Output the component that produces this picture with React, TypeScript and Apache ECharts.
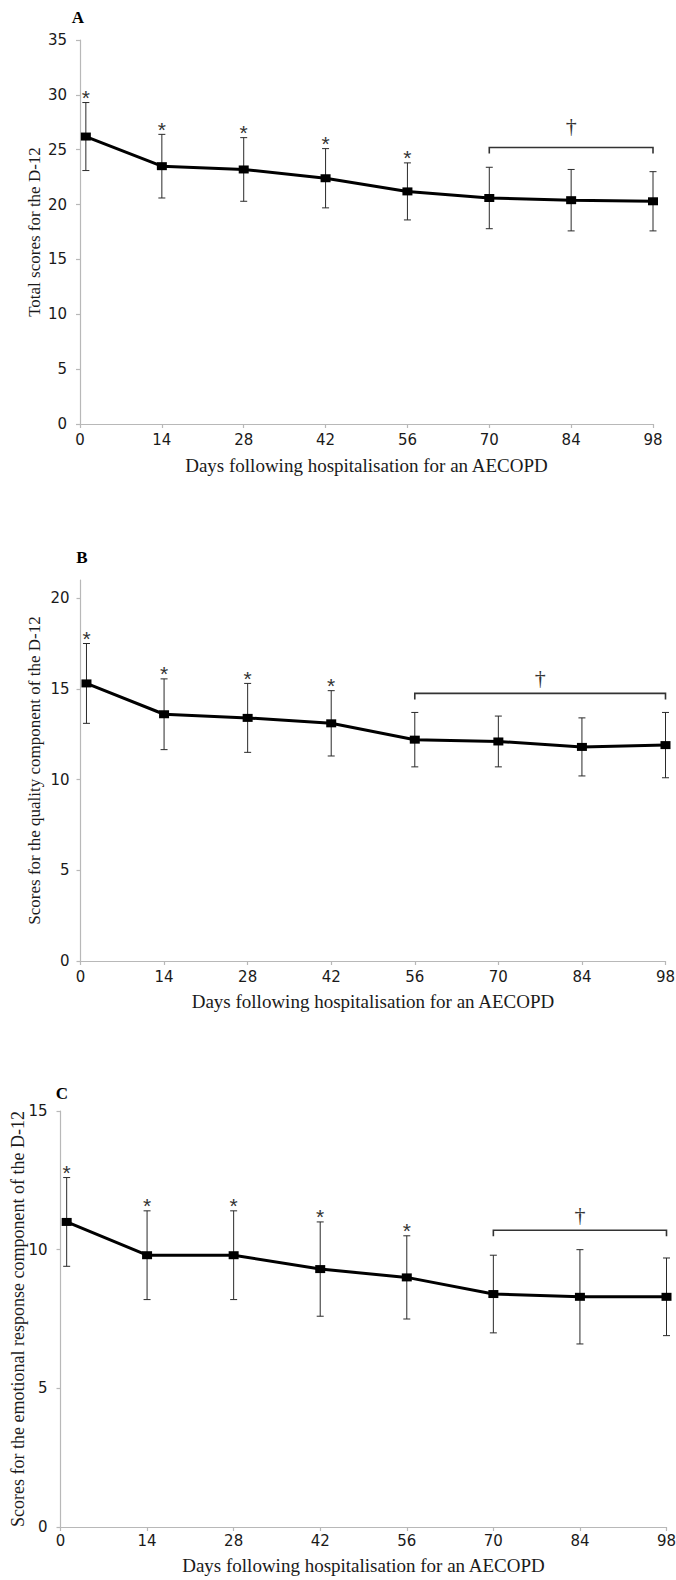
import React, { useEffect, useRef } from "react";
import * as echarts from "echarts";

// ---------- data ----------
const days = [1, 14, 28, 42, 56, 70, 84, 98];
const xTicks = [0, 14, 28, 42, 56, 70, 84, 98];

const meanA = [26.2, 23.5, 23.2, 22.4, 21.2, 20.6, 20.4, 20.3];
const sdA = [3.1, 2.9, 2.9, 2.7, 2.6, 2.8, 2.8, 2.7];
const starA = [1, 1, 1, 1, 1, 0, 0, 0];
const bracketA = [70, 98, 25.2, 27.25]; // from, to, bracket y, dagger y
const yTicksA = [0, 5, 10, 15, 20, 25, 30, 35];

const meanB = [15.3, 13.6, 13.4, 13.1, 12.2, 12.1, 11.8, 11.9];
const sdB = [2.2, 1.95, 1.9, 1.8, 1.5, 1.4, 1.6, 1.8];
const starB = [1, 1, 1, 1, 0, 0, 0, 0];
const bracketB = [56, 98, 14.75, 15.6];
const yTicksB = [0, 5, 10, 15, 20];

const meanC = [11.0, 9.8, 9.8, 9.3, 9.0, 8.4, 8.3, 8.3];
const sdC = [1.6, 1.6, 1.6, 1.7, 1.5, 1.4, 1.7, 1.4];
const starC = [1, 1, 1, 1, 1, 0, 0, 0];
const bracketC = [70, 98, 10.7, 11.28];
const yTicksC = [0, 5, 10, 15];

const xTitle = "Days following hospitalisation for an AECOPD";
const yTitleA = "Total scores for the D-12";
const yTitleB = "Scores for the quality component of the D-12";
const yTitleC = "Scores for the emotional response component of the D-12";

// ---------- layout / style ----------
const SANS = "'DejaVu Sans', 'Liberation Sans', Arial, sans-serif";
const SERIF = "'Liberation Serif', 'Times New Roman', serif";
const AXIS_COLOR = "#b8b8b8";
const TEXT_COLOR = "#1a1a1a";

const panels = [
  {
    label: "A", mean: meanA, sd: sdA, star: starA, bracket: bracketA, yTicks: yTicksA, yMax: 35,
    grid: { left: 80, top: 40, width: 573, height: 384 }, yLabelMargin: 13, xLabelMargin: 8,
    yTitle: yTitleA, yTitleX: 34, yTitleSize: 17, xTitleY: 465, labelPos: [78, 17],
  },
  {
    label: "B", mean: meanB, sd: sdB, star: starB, bracket: bracketB, yTicks: yTicksB, yMax: 21,
    grid: { left: 80.5, top: 580, width: 585, height: 381 }, yLabelMargin: 11, xLabelMargin: 8,
    yTitle: yTitleB, yTitleX: 34, yTitleSize: 17, xTitleY: 1001, labelPos: [82, 557],
  },
  {
    label: "C", mean: meanC, sd: sdC, star: starC, bracket: bracketC, yTicks: yTicksC, yMax: 15,
    grid: { left: 60.5, top: 1111, width: 606, height: 416 }, yLabelMargin: 13, xLabelMargin: 6,
    yTitle: yTitleC, yTitleX: 18, yTitleSize: 18, xTitleY: 1565, labelPos: [62, 1093],
  },
];

function buildOption() {
  const grid: any[] = [];
  const xAxis: any[] = [];
  const yAxis: any[] = [];
  const series: any[] = [];
  const graphic: any[] = [];

  panels.forEach((p, i) => {
    grid.push({ ...p.grid, containLabel: false, outerBoundsMode: "none" });
    xAxis.push({
      type: "value", gridIndex: i, min: 0, max: 98, interval: 14,
      axisLine: { show: true, lineStyle: { color: AXIS_COLOR, width: 1.2 } },
      axisTick: { show: true, inside: false, length: 4, customValues: xTicks, lineStyle: { color: AXIS_COLOR, width: 1.2 } },
      axisLabel: { margin: p.xLabelMargin, color: TEXT_COLOR, fontSize: 15, fontFamily: SANS, customValues: xTicks },
      splitLine: { show: false },
    });
    yAxis.push({
      type: "value", gridIndex: i, min: 0, max: p.yMax,
      axisLine: { show: true, lineStyle: { color: AXIS_COLOR, width: 1.2 } },
      axisTick: { show: true, inside: false, length: 4, customValues: p.yTicks, lineStyle: { color: AXIS_COLOR, width: 1.2 } },
      axisLabel: { margin: p.yLabelMargin, color: TEXT_COLOR, fontSize: 15, fontFamily: SANS, customValues: p.yTicks },
      splitLine: { show: false },
    });

    const errData = days.map((d, k) => [d, p.mean[k], p.sd[k]]);
    series.push({
      type: "custom", xAxisIndex: i, yAxisIndex: i, z: 1, silent: true,
      encode: { x: 0, y: 1 },
      data: errData,
      renderItem: (params: any, api: any) => {
        const x = api.value(0), m = api.value(1), s = api.value(2);
        const t = api.coord([x, m + s]);
        const b = api.coord([x, m - s]);
        const w = 3.5;
        const st = { stroke: "#2a2a2a", lineWidth: 1 };
        return {
          type: "group",
          children: [
            { type: "line", shape: { x1: t[0], y1: t[1], x2: b[0], y2: b[1] }, style: st },
            { type: "line", shape: { x1: t[0] - w, y1: t[1], x2: t[0] + w, y2: t[1] }, style: st },
            { type: "line", shape: { x1: b[0] - w, y1: b[1], x2: b[0] + w, y2: b[1] }, style: st },
          ],
        };
      },
    });

    series.push({
      type: "line", xAxisIndex: i, yAxisIndex: i, z: 3,
      data: days.map((d, k) => [d, p.mean[k]]),
      symbol: "rect", symbolSize: [10, 8], showSymbol: true, clip: false,
      lineStyle: { color: "#000", width: 3 },
      itemStyle: { color: "#000" },
    });

    const starData = days
      .map((d, k) => [d, p.mean[k] + p.sd[k], p.star[k]])
      .filter((r) => r[2] === 1);
    series.push({
      type: "custom", xAxisIndex: i, yAxisIndex: i, z: 2, silent: true,
      encode: { x: 0, y: 1 },
      data: starData,
      renderItem: (params: any, api: any) => {
        const c = api.coord([api.value(0), api.value(1)]);
        return {
          type: "text", x: c[0], y: c[1] - 5,
          style: { text: "*", fontSize: 21, fontFamily: "'Liberation Sans', Arial, sans-serif", fill: "#333", align: "center", verticalAlign: "middle" },
        };
      },
    });

    series.push({
      type: "custom", xAxisIndex: i, yAxisIndex: i, z: 2, silent: true,
      encode: { x: 0, y: 2 },
      data: [p.bracket],
      renderItem: (params: any, api: any) => {
        const from = api.value(0), to = api.value(1), y = api.value(2), dy = api.value(3);
        const a = api.coord([from, y]);
        const b = api.coord([to, y]);
        const d = api.coord([(from + to) / 2, dy]);
        return {
          type: "group",
          children: [
            {
              type: "polyline",
              shape: { points: [[a[0], a[1] + 6], [a[0], a[1]], [b[0], b[1]], [b[0], b[1] + 6]] },
              style: { stroke: "#333", lineWidth: 1.6, fill: "none" },
            },
            {
              type: "text", x: d[0], y: d[1],
              style: { text: "†", fontSize: 22, fontFamily: SERIF, fill: "#333", align: "center", verticalAlign: "middle" },
            },
          ],
        };
      },
    });

    // titles
    const g = p.grid;
    graphic.push({
      type: "text", x: g.left + g.width / 2, y: p.xTitleY,
      style: { text: xTitle, fontSize: 19, fontFamily: SERIF, fill: TEXT_COLOR, align: "center", verticalAlign: "middle" },
    });
    graphic.push({
      type: "text", x: p.yTitleX, y: g.top + g.height / 2, rotation: Math.PI / 2,
      style: { text: p.yTitle, fontSize: p.yTitleSize, fontFamily: SERIF, fill: TEXT_COLOR, align: "center", verticalAlign: "middle" },
    });
    graphic.push({
      type: "text", x: p.labelPos[0], y: p.labelPos[1],
      style: { text: p.label, fontSize: 17, fontWeight: "bold", fontFamily: SERIF, fill: "#000", align: "center", verticalAlign: "middle" },
    });
  });

  return { animation: false, backgroundColor: "#fff", grid, xAxis, yAxis, series, graphic };
}

export default function App() {
  const ref = useRef<HTMLDivElement>(null);
  useEffect(() => {
    document.body.style.margin = "0";
    if (!ref.current) return;
    const chart = echarts.init(ref.current, null, { renderer: "svg" });
    chart.setOption(buildOption() as any);
    return () => chart.dispose();
  }, []);
  return (
    <div
      ref={ref}
      style={{ position: "absolute", left: 0, top: 0, width: 676, height: 1580, background: "#fff" }}
    />
  );
}
